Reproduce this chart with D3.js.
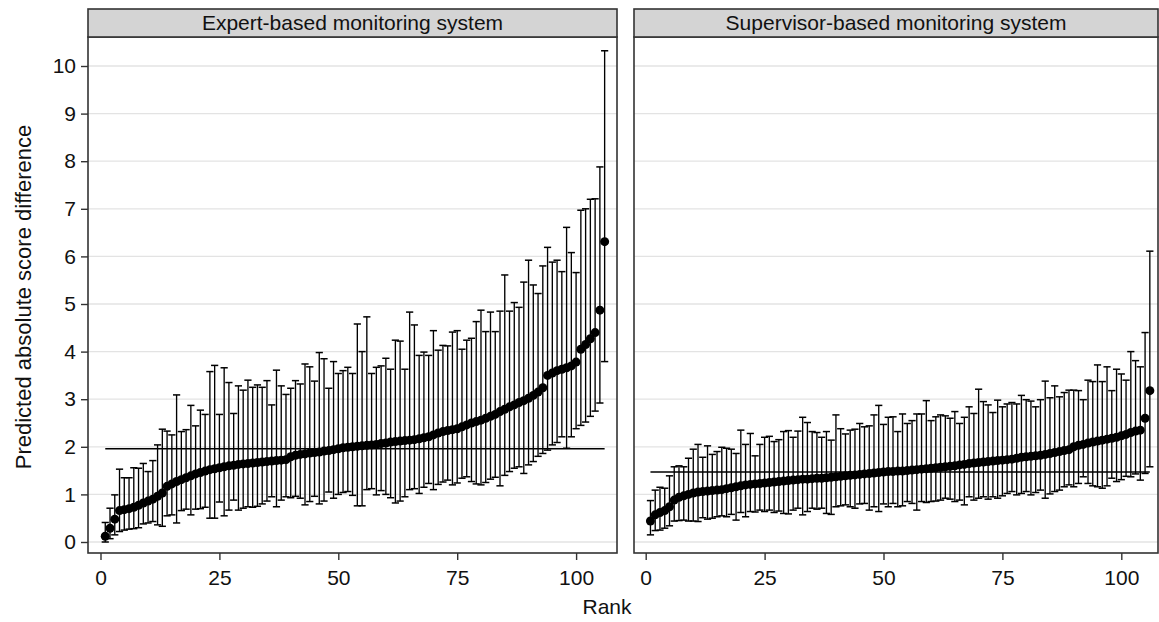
<!DOCTYPE html>
<html lang="en">
<head>
<meta charset="utf-8">
<title>Predicted absolute score difference by rank</title>
<script src="https://cdn.jsdelivr.net/npm/d3@7"></script>
<style>
  body { margin: 0; background: #fff; }
  text { font-family: "Liberation Sans", Arial, sans-serif; fill: #111; }
</style>
</head>
<body>
<script>

// panel titles
var panels = ["Expert-based monitoring system", "Supervisor-based monitoring system"];

// Expert-based: predicted value, lower and upper bound, ranks 1..106
var expertMean = [0.12,0.29,0.48,0.66,0.68,0.70,0.73,0.77,0.82,0.86,
  0.90,0.96,1.03,1.17,1.22,1.27,1.31,1.35,1.39,1.43,
  1.46,1.49,1.52,1.54,1.56,1.58,1.60,1.61,1.63,1.64,
  1.65,1.66,1.67,1.68,1.69,1.70,1.71,1.72,1.73,1.79,
  1.82,1.84,1.85,1.87,1.88,1.89,1.91,1.92,1.94,1.96,
  1.98,1.99,2.00,2.01,2.02,2.03,2.04,2.05,2.07,2.08,
  2.10,2.11,2.12,2.13,2.14,2.15,2.17,2.19,2.21,2.25,
  2.29,2.32,2.34,2.36,2.38,2.42,2.46,2.50,2.53,2.56,
  2.60,2.64,2.68,2.74,2.79,2.84,2.88,2.93,2.97,3.02,
  3.08,3.15,3.24,3.50,3.55,3.60,3.63,3.66,3.70,3.78,
  4.05,4.15,4.27,4.40,4.87,6.31];
var expertLow = [0.00,0.07,0.15,0.22,0.25,0.27,0.28,0.30,0.38,0.40,
  0.43,0.36,0.33,0.55,0.57,0.40,0.66,0.69,0.57,0.69,
  0.70,0.73,0.50,0.50,0.84,0.55,0.67,0.88,0.67,0.71,
  0.74,0.73,0.75,0.80,0.86,0.95,0.74,0.88,0.95,0.93,
  0.96,0.92,0.78,0.85,0.96,0.80,0.86,1.05,0.92,1.00,
  1.04,1.06,0.98,0.76,0.76,1.10,1.12,0.99,1.08,1.00,
  0.93,0.82,0.86,0.95,1.10,1.12,1.02,1.15,1.23,1.10,
  1.21,1.26,1.30,1.20,1.24,1.34,1.37,1.27,1.22,1.20,
  1.25,1.32,1.36,1.18,1.40,1.48,1.55,1.58,1.44,1.62,
  1.69,1.80,1.86,1.93,2.04,2.09,2.21,1.97,2.21,2.38,
  2.45,2.52,2.64,2.75,2.92,3.79];
var expertHigh = [0.41,0.71,0.99,1.53,1.35,1.35,1.56,1.55,1.65,1.48,
  1.71,2.04,2.37,2.33,2.25,3.09,2.32,2.36,2.87,2.44,
  2.77,2.68,3.58,3.71,2.68,3.66,3.35,2.70,3.28,3.19,
  3.40,3.25,3.30,3.25,3.39,2.88,3.61,3.28,3.10,3.23,
  3.39,3.32,3.74,3.68,3.38,3.98,3.85,3.23,3.79,3.54,
  3.60,3.67,3.54,4.58,4.00,4.73,3.54,3.67,3.70,3.86,
  3.63,4.24,4.22,3.63,4.83,4.56,3.92,3.99,3.92,4.44,
  4.03,4.13,4.12,4.41,4.44,4.05,4.24,4.28,4.63,4.87,
  4.42,4.83,4.42,4.85,5.61,4.85,5.03,4.93,5.46,5.92,
  5.40,5.22,5.80,6.19,5.88,5.92,5.68,6.61,6.08,5.66,
  6.97,7.00,7.20,7.21,7.88,10.32];

// Supervisor-based
var superMean = [0.44,0.57,0.62,0.66,0.74,0.88,0.94,0.97,1.00,1.03,
  1.05,1.06,1.07,1.08,1.09,1.10,1.12,1.14,1.16,1.18,
  1.20,1.21,1.22,1.23,1.24,1.25,1.26,1.27,1.28,1.29,
  1.30,1.31,1.32,1.32,1.33,1.34,1.34,1.35,1.36,1.37,
  1.38,1.39,1.40,1.41,1.42,1.43,1.44,1.45,1.46,1.47,
  1.48,1.48,1.49,1.49,1.50,1.51,1.52,1.53,1.54,1.55,
  1.56,1.57,1.58,1.59,1.60,1.62,1.63,1.65,1.66,1.67,
  1.68,1.69,1.70,1.71,1.72,1.73,1.74,1.76,1.78,1.79,
  1.80,1.81,1.82,1.84,1.86,1.88,1.90,1.92,1.94,2.00,
  2.03,2.05,2.08,2.10,2.12,2.14,2.16,2.18,2.20,2.23,
  2.26,2.30,2.33,2.35,2.60,3.18];
var superLow = [0.15,0.24,0.25,0.29,0.34,0.44,0.45,0.46,0.44,0.44,
  0.43,0.51,0.48,0.50,0.53,0.55,0.53,0.58,0.46,0.62,
  0.53,0.64,0.63,0.67,0.64,0.67,0.62,0.65,0.60,0.59,
  0.67,0.71,0.57,0.64,0.71,0.69,0.71,0.60,0.58,0.74,
  0.76,0.78,0.74,0.71,0.80,0.81,0.67,0.74,0.64,0.80,
  0.74,0.81,0.74,0.76,0.85,0.81,0.67,0.85,0.83,0.85,
  0.86,0.88,0.92,0.90,0.85,0.88,0.78,0.95,0.88,0.92,
  0.95,0.90,0.95,0.92,0.97,1.02,1.06,0.99,1.02,1.06,
  0.99,1.04,1.09,0.92,1.01,1.06,1.09,1.16,1.20,1.16,
  1.23,1.37,1.23,1.18,1.16,1.13,1.18,1.34,1.27,1.31,
  1.38,1.37,1.43,1.30,1.44,1.58];
var superHigh = [0.87,1.09,1.15,1.13,1.39,1.58,1.60,1.58,1.76,1.95,
  2.05,1.78,2.02,1.84,1.90,1.99,1.97,1.95,1.86,2.35,
  2.05,2.28,1.81,2.05,2.20,2.22,2.11,2.15,2.32,2.34,
  2.20,2.33,2.62,2.51,2.32,2.30,2.20,2.32,2.14,2.67,
  2.38,2.27,2.35,2.37,2.49,2.42,2.44,2.67,2.87,2.47,
  2.62,2.63,2.32,2.69,2.49,2.55,2.69,2.69,2.97,2.55,
  2.63,2.67,2.65,2.60,2.74,2.49,2.62,2.84,2.70,3.21,
  2.95,2.88,2.72,2.98,2.84,2.90,2.93,2.90,3.08,2.99,
  2.96,2.84,2.99,3.38,3.03,3.28,3.05,3.14,3.19,3.19,
  3.18,2.99,3.40,3.37,3.72,3.37,3.68,3.18,3.63,3.53,
  3.40,4.00,3.81,3.68,4.40,6.11];

// overall mean lines
var overallMean = [1.96, 1.47];

var yTicks = [0,1,2,3,4,5,6,7,8,9,10];
var xTicks = [0,25,50,75,100];

var width = 1159, height = 622;
var svg = d3.select("body").append("svg")
    .attr("width", width)
    .attr("height", height);

var plotTop = 37, plotBottom = 553, headTop = 9;
var frames = [{x0: 88, x1: 617, zero: 100.5}, {x0: 634, x1: 1158, zero: 645.7}];
var fs = 21;

var y = d3.scaleLinear().domain([0, 10]).range([542, 66]);

var series = [
  {mean: expertMean, lo: expertLow, hi: expertHigh},
  {mean: superMean, lo: superLow, hi: superHigh}
];

series.forEach(function(s, p) {
    var f = frames[p];
    var x = d3.scaleLinear().domain([0, 100]).range([f.zero, f.zero + 475.6]);
    var g = svg.append("g");

    var rows = s.mean.map(function(m, i) {
        return {rank: i + 1, mean: m, lo: s.lo[i], hi: s.hi[i]};
    });

    // grid
    g.selectAll(".grid").data(yTicks).enter().append("line")
        .attr("x1", f.x0).attr("x2", f.x1)
        .attr("y1", function(d) { return y(d); })
        .attr("y2", function(d) { return y(d); })
        .attr("stroke", "#e3e3e3").attr("stroke-width", 1.3);

    // error bars
    var bars = g.selectAll(".bar").data(rows).enter().append("g");
    bars.append("line")
        .attr("x1", function(d) { return x(d.rank); })
        .attr("x2", function(d) { return x(d.rank); })
        .attr("y1", function(d) { return y(d.lo); })
        .attr("y2", function(d) { return y(d.hi); })
        .attr("stroke", "#000").attr("stroke-width", 1.35);
    ["lo", "hi"].forEach(function(k) {
        bars.append("line")
            .attr("x1", function(d) { return x(d.rank) - 3.6; })
            .attr("x2", function(d) { return x(d.rank) + 3.6; })
            .attr("y1", function(d) { return y(d[k]); })
            .attr("y2", function(d) { return y(d[k]); })
            .attr("stroke", "#000").attr("stroke-width", 1.5);
    });

    // mean line
    g.append("line")
        .attr("x1", x(1)).attr("x2", x(rows.length))
        .attr("y1", y(overallMean[p])).attr("y2", y(overallMean[p]))
        .attr("stroke", "#000").attr("stroke-width", 1.5);

    // points
    g.selectAll(".pt").data(rows).enter().append("circle")
        .attr("cx", function(d) { return x(d.rank); })
        .attr("cy", function(d) { return y(d.mean); })
        .attr("r", 4.5)
        .attr("fill", "#000");

    // frame + header
    g.append("rect")
        .attr("x", f.x0).attr("y", plotTop)
        .attr("width", f.x1 - f.x0).attr("height", plotBottom - plotTop)
        .attr("fill", "none").attr("stroke", "#333").attr("stroke-width", 1.6);
    g.append("rect")
        .attr("x", f.x0).attr("y", headTop)
        .attr("width", f.x1 - f.x0).attr("height", plotTop - headTop)
        .attr("fill", "#d4d4d4").attr("stroke", "#333").attr("stroke-width", 1.6);
    g.append("text")
        .attr("x", (f.x0 + f.x1) / 2).attr("y", 30)
        .attr("text-anchor", "middle")
        .attr("font-size", fs)
        .text(panels[p]);

    // x axis
    var xa = g.append("g")
        .attr("transform", "translate(0," + plotBottom + ")")
        .call(d3.axisBottom(x).tickValues(xTicks).tickSize(7).tickPadding(10));
    xa.select(".domain").remove();
    xa.selectAll("line").attr("stroke", "#333").attr("stroke-width", 1.4);
    xa.selectAll("text").attr("font-size", fs).attr("fill", "#111")
        .attr("font-family", "Liberation Sans, Arial, sans-serif");

    if (p === 0) {
        var ya = g.append("g")
            .attr("transform", "translate(" + f.x0 + ",0)")
            .call(d3.axisLeft(y).tickValues(yTicks).tickSize(7).tickPadding(5));
        ya.select(".domain").remove();
        ya.selectAll("line").attr("stroke", "#333").attr("stroke-width", 1.4);
        ya.selectAll("text").attr("font-size", fs).attr("fill", "#111")
            .attr("font-family", "Liberation Sans, Arial, sans-serif");
    }
});

svg.append("text")
    .attr("x", 607).attr("y", 614)
    .attr("text-anchor", "middle")
    .attr("font-size", fs)
    .text("Rank");

svg.append("text")
    .attr("transform", "translate(31,297) rotate(-90)")
    .attr("text-anchor", "middle")
    .attr("font-size", 22)
    .text("Predicted absolute score difference");

</script>
</body>
</html>
